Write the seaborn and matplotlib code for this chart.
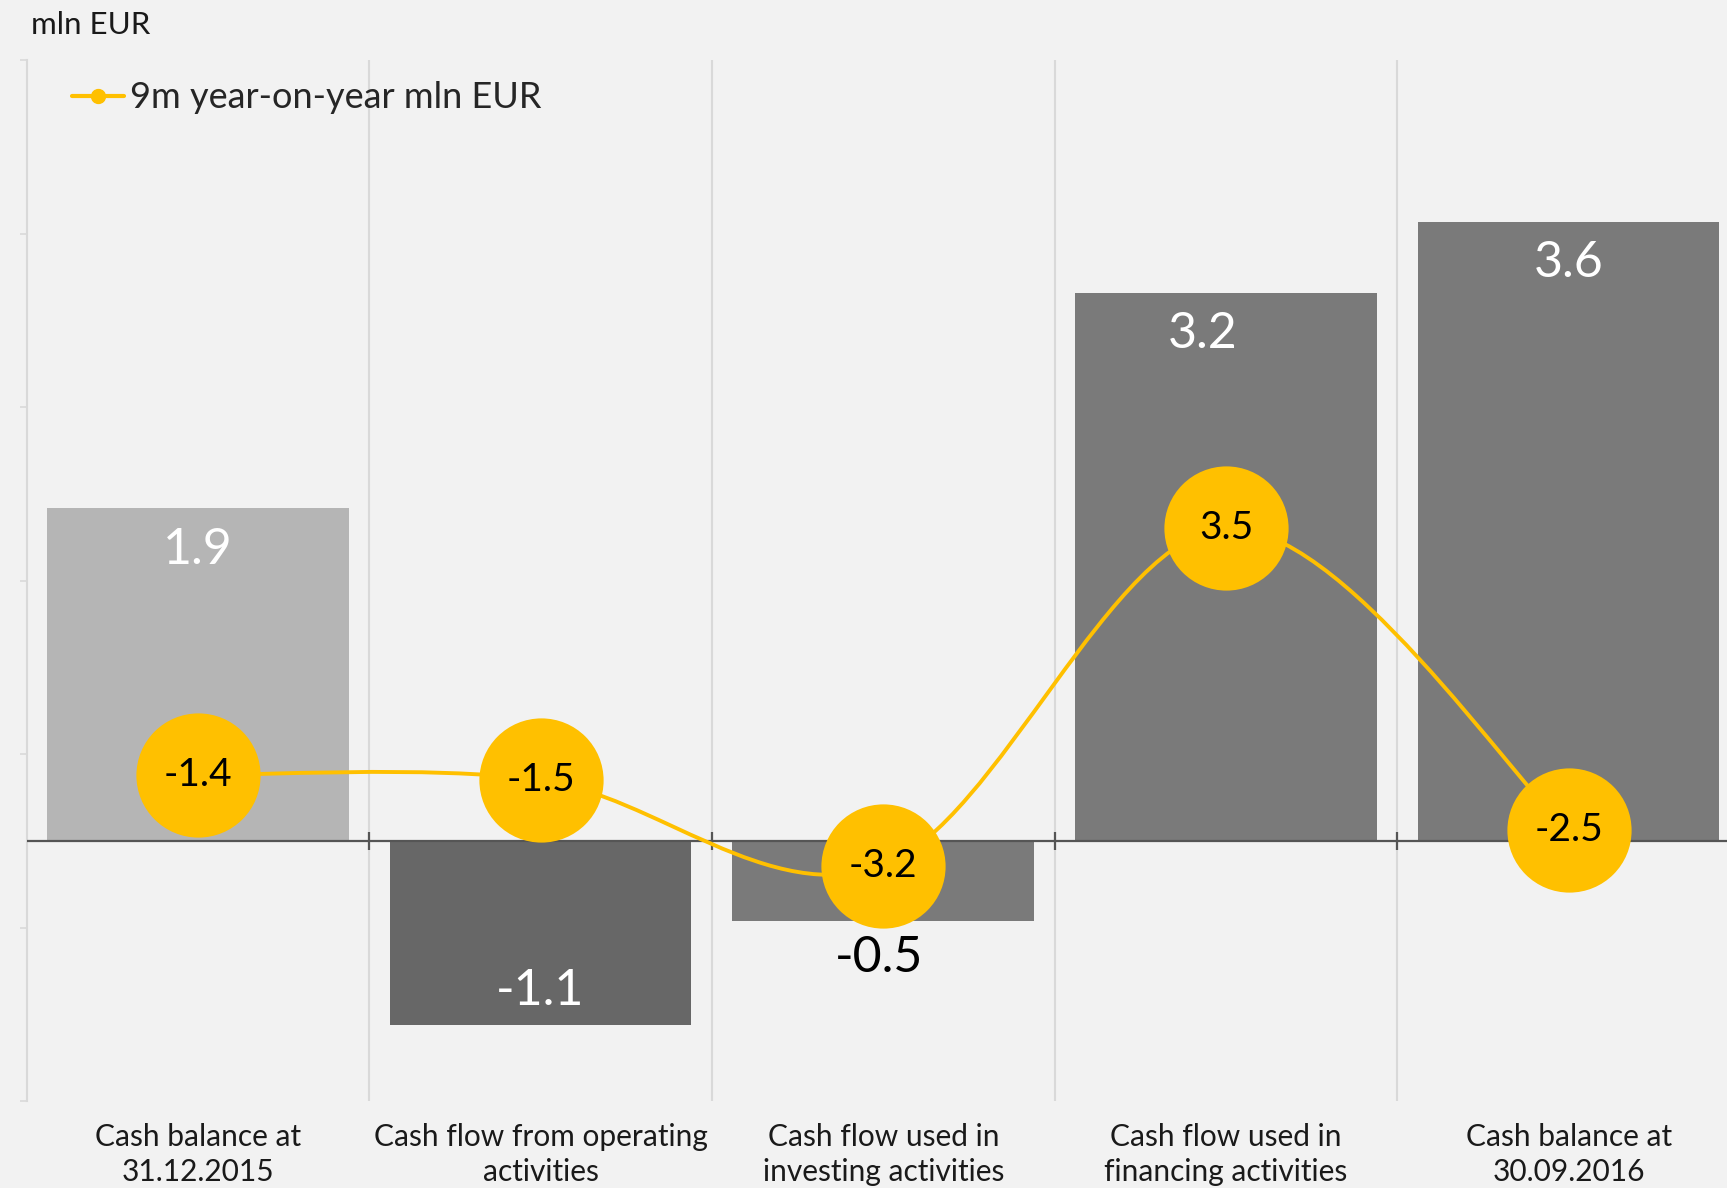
import numpy as np
import pandas as pd
import matplotlib
matplotlib.use("Agg")
import matplotlib.pyplot as plt
from matplotlib.path import Path
from matplotlib.patches import PathPatch
from matplotlib.lines import Line2D
import seaborn as sns

# data
categories = [
    "Cash balance at\n31.12.2015",
    "Cash flow from operating\nactivities",
    "Cash flow used in\ninvesting activities",
    "Cash flow used in\nfinancing activities",
    "Cash balance at\n30.09.2016",
]
cash_values = [1.92, -1.06, -0.46, 3.16, 3.57]
yoy_values = [-1.4, -1.5, -3.2, 3.5, -2.5]
bar_colors = ["#b5b5b5", "#676767", "#7a7a7a", "#7a7a7a", "#7a7a7a"]
unit_label = "mln EUR"
legend_label = "9m year-on-year mln EUR"

# label nudges (points), styling only
label_dx = [0, 0, -3, -17, 0]

BG = "#f2f2f2"
YELLOW = "#ffc000"
GRID = "#d9d9d9"


def smooth_path(xs, ys):
    # bezier through the points, tangents like a catmull-rom spline
    pts = np.column_stack([xs, ys]).astype(float)
    n = len(pts)
    verts = [pts[0]]
    codes = [Path.MOVETO]
    for i in range(n - 1):
        p0 = pts[i - 1] if i > 0 else pts[i]
        p1 = pts[i]
        p2 = pts[i + 1]
        p3 = pts[i + 2] if i + 2 < n else pts[i + 1]
        verts += [p1 + (p2 - p0) / 6, p2 - (p3 - p1) / 6, p2]
        codes += [Path.CURVE4] * 3
    return Path(verts, codes)


def main():
    sns.set_theme(style="white")
    plt.rcParams["font.family"] = ["Lato", "DejaVu Sans"]

    fig = plt.figure(figsize=(17.27, 11.88), dpi=100, facecolor=BG)
    ax = fig.add_axes([26.5 / 1727, 0.0732, (1740 - 26.5) / 1727, 0.876])
    ax.set_facecolor(BG)

    df = pd.DataFrame({"category": categories, "value": cash_values})
    sns.barplot(data=df, x="category", y="value", hue="category",
                palette=bar_colors, width=0.88, saturation=1,
                legend=False, ax=ax, zorder=2, linewidth=0, edgecolor="none")

    ax.set_xlim(-0.5, len(categories) - 0.5)
    ax.set_ylim(-1.5, 4.5)
    ax.set_xlabel("")
    ax.set_ylabel("")

    # spines / ticks
    for s in ["top", "right", "bottom"]:
        ax.spines[s].set_visible(False)
    ax.spines["left"].set_color(GRID)
    ax.spines["left"].set_linewidth(1.5)
    ax.set_yticks(np.arange(-1.5, 4.6, 1.0))
    ax.set_yticklabels([])
    ax.tick_params(axis="y", left=True, length=5, width=1.2, color=GRID)
    ax.set_xticks(range(len(categories)))
    ax.set_xticklabels(categories, fontsize=21.5, color="#1a1a1a", linespacing=1.32)
    ax.tick_params(axis="x", length=0, pad=15.5)

    bounds = np.arange(len(categories) - 1) + 0.5
    for b in bounds:
        ax.axvline(b, color=GRID, lw=1.5, zorder=0)
    ax.axhline(0, color="#555555", lw=1.6, zorder=3)
    ax.plot(bounds, np.zeros(len(bounds)), linestyle="none", marker="|",
            markersize=13, markeredgewidth=1.6, color="#555555", zorder=3)

    # bar value labels
    for i, v in enumerate(cash_values):
        if v >= 0:
            dy, col = -30, "white"
        elif abs(v) > 0.8:
            dy, col = 24, "white"
        else:
            dy, col = -27, "black"
        ax.annotate(f"{v:.1f}", (i, v), xytext=(label_dx[i], dy), textcoords="offset points",
                    ha="center", va="center", fontsize=36, color=col, zorder=4)

    # year-on-year line on its own scale
    ax2 = ax.twinx()
    ax2.set_ylim(-7.88, 12.8)
    ax2.axis("off")
    xs = np.arange(len(yoy_values))
    ax2.add_patch(PathPatch(smooth_path(xs, yoy_values), facecolor="none",
                            edgecolor=YELLOW, lw=2.8, zorder=3))
    sns.scatterplot(x=xs, y=yoy_values, s=8000, color=YELLOW, linewidth=0,
                    ax=ax2, zorder=4, clip_on=False)
    for x, v in zip(xs, yoy_values):
        ax2.text(x, v, f"{v:.1f}", ha="center", va="center", fontsize=28,
                 color="black", zorder=5)

    handle = Line2D([], [], color=YELLOW, lw=3, marker="o", markersize=10)
    leg = ax.legend([handle], [legend_label], loc="center left",
                    bbox_to_anchor=(72 / 1727, 1 - 98 / 1188), bbox_transform=fig.transFigure,
                    frameon=False, fontsize=26, handlelength=1.45, handletextpad=0.15,
                    borderpad=0, borderaxespad=0)
    leg.set_zorder(6)

    fig.text(31 / 1727, 1 - 25 / 1188, unit_label, fontsize=22.5, va="center",
             ha="left", color="#1a1a1a")

    fig.savefig("out.png", dpi=100, facecolor=BG)


if __name__ == "__main__":
    main()
